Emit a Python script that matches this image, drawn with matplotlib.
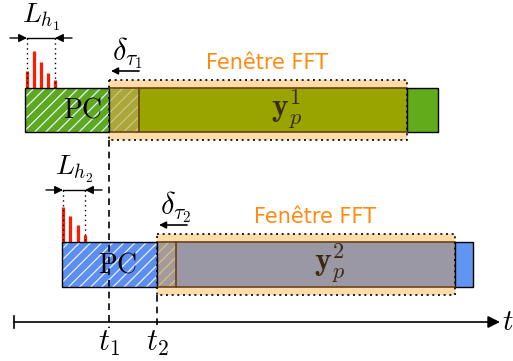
import matplotlib.pyplot as plt
from matplotlib.patches import Rectangle

plt.rcParams['mathtext.fontset'] = 'cm'
plt.rcParams['hatch.linewidth'] = 0.9

# layout in pixel units (y grows downwards)
rows = ["1", "2"]
pc_start = [25, 62]
t_start = [109, 157]          # t1, t2 : start of FFT window
delay_end = [139, 176]        # end of delta_tau region
win_end = [407, 455]
block_end = [438, 473]
block_top = [88, 242]
block_bot = [132, 287]
pc_label_x = [83, 118]
pc_color = ["#5da81e", "#5b8ef0"]
body_color = ["#99a400", "#9a98a4"]
overlap_color = ["#a8a83a", "#a39a9c"]
end_color = ["#62ab1a", "#6096f2"]

# impulse responses (x position, top of spike)
spikes_x = [[27, 34, 41, 48, 55], [63, 70, 78, 85]]
spikes_top = [[71, 51, 62, 73, 80], [207, 216, 225, 235]]
lh_marks = [[27, 55], [63, 85]]
lh_y = [38, 190]

fig = plt.figure(figsize=(5.13, 3.61), dpi=100)
ax = fig.add_axes([0, 0, 1, 1])
ax.set_xlim(0, 513)
ax.set_ylim(361, 0)
ax.axis("off")

orange = "#ffdcaa"
brown = "#6b4214"

for i in range(2):
    top, bot = block_top[i], block_bot[i]
    h = bot - top
    # FFT window background
    ax.add_patch(Rectangle((t_start[i], top - 8), win_end[i] - t_start[i], h + 16,
                           facecolor=orange, edgecolor="none", zorder=1))
    # cyclic prefix
    ax.add_patch(Rectangle((pc_start[i], top), t_start[i] - pc_start[i], h,
                           facecolor=pc_color[i], edgecolor="none", zorder=2))
    ax.add_patch(Rectangle((pc_start[i], top), t_start[i] - pc_start[i], h,
                           facecolor="none", edgecolor="#e8f0ff", hatch="///", lw=0, zorder=3))
    ax.add_patch(Rectangle((pc_start[i], top), t_start[i] - pc_start[i], h,
                           facecolor="none", edgecolor="black", lw=1.0, zorder=4))
    # overlap region
    ax.add_patch(Rectangle((t_start[i], top), delay_end[i] - t_start[i], h,
                           facecolor=overlap_color[i], edgecolor="none", zorder=2))
    ax.add_patch(Rectangle((t_start[i], top), delay_end[i] - t_start[i], h,
                           facecolor="none", edgecolor="#d8c080", hatch="///", lw=0, zorder=3))
    # symbol body
    ax.add_patch(Rectangle((delay_end[i], top), win_end[i] - delay_end[i], h,
                           facecolor=body_color[i], edgecolor="none", zorder=2))
    ax.plot([t_start[i], win_end[i]], [top, top], color=brown, lw=1.2, zorder=4)
    ax.plot([t_start[i], win_end[i]], [bot, bot], color=brown, lw=1.2, zorder=4)
    ax.plot([delay_end[i], delay_end[i]], [top, bot], color=brown, lw=1.2, zorder=4)
    # tail block
    ax.add_patch(Rectangle((win_end[i], top), block_end[i] - win_end[i], h,
                           facecolor=end_color[i], edgecolor="black", lw=1.0, zorder=2))
    # dotted window border
    ax.add_patch(Rectangle((t_start[i], top - 8), win_end[i] - t_start[i], h + 16,
                           facecolor="none", edgecolor="black", lw=1.2,
                           linestyle=(0, (1.2, 2.2)), zorder=5))
    # spikes
    for sx, st in zip(spikes_x[i], spikes_top[i]):
        ax.plot([sx, sx], [top, st], color="#ff1a00", lw=2.3, solid_capstyle="butt", zorder=3)
    # L_h marks
    for mx in lh_marks[i]:
        ax.plot([mx, mx], [lh_y[i], top], color="black", lw=1.0,
                linestyle=(0, (1, 2.5)), zorder=4)
    a, b = lh_marks[i]
    ax.annotate("", xy=(a, lh_y[i]), xytext=(a - 17, lh_y[i]),
                arrowprops=dict(arrowstyle="-|>", color="black", lw=1.0,
                                shrinkA=0, shrinkB=0, mutation_scale=12))
    ax.annotate("", xy=(b, lh_y[i]), xytext=(b + 17, lh_y[i]),
                arrowprops=dict(arrowstyle="-|>", color="black", lw=1.0,
                                shrinkA=0, shrinkB=0, mutation_scale=12))
    ax.plot([a, b], [lh_y[i], lh_y[i]], color="black", lw=1.0)
    ax.text((a + b) / 2, lh_y[i] - 21, r"$L_{h_%s}$" % rows[i], fontsize=20,
            ha="center", va="center")
    # labels
    ax.text(pc_label_x[i], (top + bot) / 2, r"$\mathrm{PC}$",
            fontsize=20, ha="center", va="center", zorder=6)
    ax.text((delay_end[i] + win_end[i]) / 2 + 14, (top + bot) / 2 - 1,
            r"$\mathbf{y}_p^%s$" % rows[i], fontsize=23, ha="center", va="center",
            color="#3a2a10", zorder=6)
    ax.text((t_start[i] + win_end[i]) / 2 + 9, top - 25, "Fenêtre FFT", fontsize=15,
            color="#ff8a10", ha="center", va="center")
    ax.text(t_start[i] + 19, top - 35, r"$\delta_{\tau_%s}$" % rows[i], fontsize=22,
            ha="center", va="center")
    ax.annotate("", xy=(t_start[i] + 2, top - 17), xytext=(t_start[i] + 30, top - 17),
                arrowprops=dict(arrowstyle="-|>", color="black", lw=1.2,
                                shrinkA=0, shrinkB=0, mutation_scale=10))

# time axis
axis_y = 322
ax.annotate("", xy=(500, axis_y), xytext=(14, axis_y),
            arrowprops=dict(arrowstyle="-|>", color="black", lw=1.2,
                            shrinkA=0, shrinkB=0, mutation_scale=18))
ax.plot([14, 14], [axis_y - 6, axis_y + 6], color="black", lw=1.2)
ax.text(502, axis_y, r"$t$", fontsize=21, ha="left", va="center")
ax.plot([t_start[0], t_start[0]], [block_bot[0] + 8, axis_y + 6], color="black",
        lw=1.2, linestyle=(0, (4, 3)), zorder=6)
ax.plot([t_start[1], t_start[1]], [block_bot[1] + 8, axis_y + 6], color="black",
        lw=1.2, linestyle=(0, (4, 3)), zorder=6)
for i in range(2):
    ax.text(t_start[i], axis_y + 21, r"$t_%s$" % rows[i], fontsize=22,
            ha="center", va="center")

fig.savefig("out.png", dpi=100)
